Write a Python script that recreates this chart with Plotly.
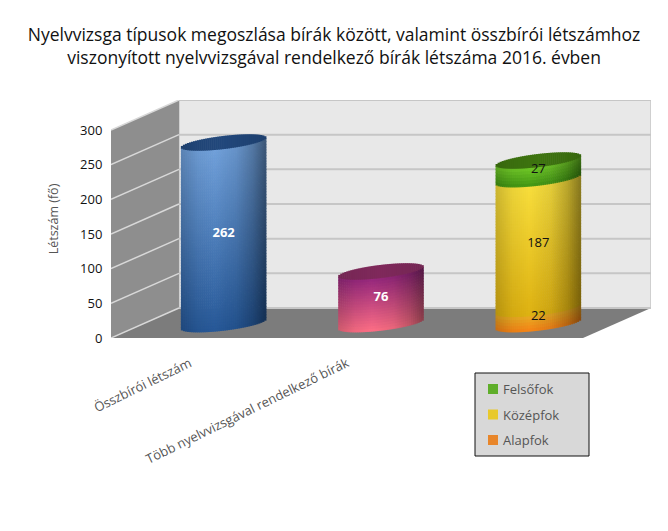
import numpy as np
import plotly.graph_objects as go

kategoriak = ["Összbírói létszám", "Több nyelvvizsgával rendelkező bírák", ""]
osszbiroi = [262]
tobb_nyelvvizsga = [76]
alapfok = [22]
kozepfok = [187]
felsofok = [27]
y_ticks = [0, 50, 100, 150, 200, 250, 300]
jelmagyarazat = ["Felsőfok", "Középfok", "Alapfok"]
jel_szinek = ["#5fae2a", "#e8c92c", "#e8862a"]

cim = (
    "Nyelvvizsga típusok megoszlása bírák között, valamint összbírói létszámhoz"
    "<br>viszonyított nyelvvizsgával rendelkező bírák létszáma 2016. évben"
)

# 3D hatás: a hátfal eltolása tengelyegységben
MELYSEG_X = 0.432
MELYSEG_Y = 43.3
ALAP = 20.0  # a henger alja a padlón
FEL_SZELES = 0.27
TILT = 7.2
ELLIPSZIS = 9.5
N_CSIK = 42


def arnyek(u):
    return np.interp(u, [-1, -0.6, -0.2, 0.3, 0.7, 1], [0.82, 0.95, 1.0, 0.92, 0.75, 0.55])


def szin(also, felso, v, u):
    c = (np.array(also) + (np.array(felso) - np.array(also)) * v) * arnyek(u)
    return "rgb(%d,%d,%d)" % tuple(np.clip(c, 0, 255))


sx, sbase, sh, sw, sc = [], [], [], [], []


def henger(kozep, szegmensek, teto):
    """Egy henger csíkjai: szegmensek = (érték, alsó szín, felső szín)"""
    dx = 2 * FEL_SZELES / N_CSIK
    us = (np.arange(N_CSIK) + 0.5) / N_CSIK * 2 - 1
    for i, u in enumerate(us):
        iv = ELLIPSZIS * np.sqrt(1 - u * u)
        also = ALAP + TILT * u - iv
        for ertek, c0, c1 in szegmensek:
            n = max(2, int(ertek / 4))
            for j in range(n):
                sx.append(kozep + u * FEL_SZELES)
                sbase.append(also + ertek * j / n)
                sh.append(ertek / n + 1)
                sw.append(dx * 1.3)
                sc.append(szin(c0, c1, (j + 0.5) / n, u))
            also += ertek
    # teteje
    osszes = sum(s[0] for s in szegmensek)
    for u in us:
        iv = ELLIPSZIS * np.sqrt(1 - u * u)
        sx.append(kozep + u * FEL_SZELES)
        sbase.append(ALAP + osszes + TILT * u - iv)
        sh.append(2 * iv)
        sw.append(dx * 1.3)
        sc.append(szin(teto, teto, 0, -0.2 + 0.6 * u))


henger(0 + MELYSEG_X / 2, [(osszbiroi[0], (38, 88, 152), (112, 160, 218))], (34, 72, 124))
henger(1 + MELYSEG_X / 2, [(tobb_nyelvvizsga[0], (255, 112, 134), (150, 40, 125))], (128, 42, 92))
henger(
    2 + MELYSEG_X / 2,
    [
        (alapfok[0], (246, 130, 22), (232, 172, 36)),
        (kozepfok[0], (222, 178, 18), (248, 222, 60)),
        (felsofok[0], (66, 150, 20), (112, 200, 40)),
    ],
    (62, 116, 16),
)

fig = go.Figure()
fig.add_trace(
    go.Bar(
        x=sx,
        y=sh,
        base=sbase,
        width=sw,
        marker=dict(color=sc, line=dict(width=0)),
        hoverinfo="skip",
        showlegend=False,
    )
)

# Feliratok
cx = [0 + MELYSEG_X / 2, 1 + MELYSEG_X / 2]
fig.add_trace(
    go.Scatter(
        x=cx,
        y=[ALAP + osszbiroi[0] / 2, ALAP + tobb_nyelvvizsga[0] / 2],
        text=["<b>%d</b>" % osszbiroi[0], "<b>%d</b>" % tobb_nyelvvizsga[0]],
        mode="text",
        textfont=dict(family="Open Sans", size=13, color="white"),
        hoverinfo="skip",
        showlegend=False,
    )
)
fig.add_trace(
    go.Scatter(
        x=[2 + MELYSEG_X / 2] * 3,
        y=[
            ALAP + alapfok[0] / 2,
            ALAP + alapfok[0] + kozepfok[0] / 2,
            ALAP + alapfok[0] + kozepfok[0] + felsofok[0] / 2,
        ],
        text=[str(alapfok[0]), str(kozepfok[0]), str(felsofok[0])],
        mode="text",
        textfont=dict(family="Open Sans", size=13, color="#111111"),
        hoverinfo="skip",
        showlegend=False,
    )
)

# Falak és padló
x0, x1 = -0.5, 2.5
top = y_ticks[-1]
falak = [
    dict(
        type="path",
        path=f"M {x0+MELYSEG_X},{MELYSEG_Y} L {x1+MELYSEG_X},{MELYSEG_Y} L {x1+MELYSEG_X},{top+MELYSEG_Y} L {x0+MELYSEG_X},{top+MELYSEG_Y} Z",
        fillcolor="#e8e8e8",
        line=dict(color="#c6c6c6", width=1.5),
        layer="below",
    ),
    dict(
        type="path",
        path=f"M {x0},0 L {x0+MELYSEG_X},{MELYSEG_Y} L {x0+MELYSEG_X},{top+MELYSEG_Y} L {x0},{top} Z",
        fillcolor="#8e8e8e",
        line=dict(width=0),
        layer="below",
    ),
    dict(
        type="path",
        path=f"M {x0},0 L {x1},0 L {x1+MELYSEG_X},{MELYSEG_Y} L {x0+MELYSEG_X},{MELYSEG_Y} Z",
        fillcolor="#7c7c7c",
        line=dict(width=0),
        layer="below",
    ),
]
for t in y_ticks:
    falak.append(
        dict(
            type="line",
            x0=x0 + MELYSEG_X,
            x1=x1 + MELYSEG_X,
            y0=t + MELYSEG_Y,
            y1=t + MELYSEG_Y,
            line=dict(color="#c6c6c6", width=2),
            layer="below",
        )
    )
    falak.append(
        dict(
            type="line",
            x0=x0,
            x1=x0 + MELYSEG_X,
            y0=t,
            y1=t + MELYSEG_Y,
            line=dict(color="#d8d8d8", width=1.5),
            layer="below",
        )
    )


# Jelmagyarázat kézzel, pixelből papírkoordinátába (a rajzterület 540x238)
def px_x(p):
    return (p - 111) / 540


def px_y(p):
    return (338 - p) / 238


falak.append(
    dict(
        type="rect",
        xref="paper",
        yref="paper",
        x0=px_x(475),
        x1=px_x(589),
        y0=px_y(373),
        y1=px_y(456),
        fillcolor="#d8d8d8",
        line=dict(color="#111111", width=1),
    )
)
feliratok = []
for i, (nev, c) in enumerate(zip(jelmagyarazat, jel_szinek)):
    sor_y = 389 + i * 25.5
    falak.append(
        dict(
            type="rect",
            xref="paper",
            yref="paper",
            x0=px_x(488),
            x1=px_x(498),
            y0=px_y(sor_y - 5),
            y1=px_y(sor_y + 5),
            fillcolor=c,
            line=dict(width=0),
        )
    )
    feliratok.append(
        dict(
            text=nev,
            xref="paper",
            yref="paper",
            x=px_x(501),
            y=px_y(sor_y),
            xanchor="left",
            yanchor="middle",
            showarrow=False,
            font=dict(family="Open Sans", size=13, color="#555555"),
        )
    )

fig.update_layout(
    width=660,
    height=523,
    margin=dict(l=103, r=17, t=92, b=193),
    paper_bgcolor="white",
    plot_bgcolor="white",
    barmode="overlay",
    hovermode=False,
    showlegend=False,
    font=dict(family="Open Sans", color="#333333"),
    title=dict(
        text=cim,
        x=0.494,
        xanchor="center",
        y=0.936,
        yanchor="top",
        font=dict(family="Open Sans", size=17.5, color="#111111"),
    ),
    shapes=falak,
    annotations=feliratok,
    xaxis=dict(
        range=[x0, x1 + MELYSEG_X],
        tickvals=[0, 1, 2],
        ticktext=kategoriak,
        tickangle=-26,
        showgrid=False,
        zeroline=False,
        ticks="outside",
        ticklen=12,
        tickcolor="rgba(0,0,0,0)",
        tickfont=dict(family="Open Sans", size=13, color="#555555"),
    ),
    yaxis=dict(
        range=[0, top + MELYSEG_Y],
        tickvals=y_ticks,
        showgrid=False,
        zeroline=False,
        ticks="outside",
        ticklen=5,
        tickcolor="rgba(0,0,0,0)",
        tickfont=dict(family="Open Sans", size=13, color="#111111"),
        title=dict(
            text="Létszám (fő)",
            standoff=18,
            font=dict(family="Open Sans", size=12.5, color="#555555"),
        ),
    ),
)

fig.write_html("out.html")
